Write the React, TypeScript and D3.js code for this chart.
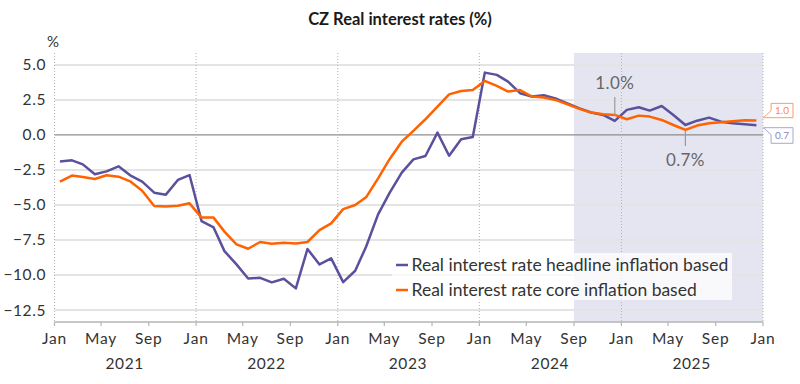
import React from "react";
import * as d3 from "d3";

// monthly observations, Jan 2021 .. Dec 2025 (plotted mid-month)
const years = [2021, 2022, 2023, 2024, 2025];
const headline = [
  -1.9, -1.81, -2.1, -2.8, -2.6, -2.24, -2.88, -3.33, -4.12, -4.26, -3.21, -2.86,
  -6.15, -6.6, -8.29, -9.24, -10.24, -10.2, -10.52, -10.26, -10.95, -8.14, -9.24, -8.81,
  -10.5, -9.69, -7.98, -5.67, -4.12, -2.69, -1.74, -1.5, 0.17, -1.48, -0.31, -0.14,
  4.45, 4.29, 3.81, 2.98, 2.74, 2.83, 2.6, 2.26, 1.9, 1.6, 1.43, 1.0,
  1.79, 1.98, 1.74, 2.07, 1.43, 0.71, 1.02, 1.24, 0.95, 0.83, 0.76, 0.69,
];
const core = [
  -3.33, -2.9, -3.0, -3.14, -2.88, -2.98, -3.31, -3.98, -5.07, -5.1, -5.05, -4.88,
  -5.9, -5.9, -6.9, -7.81, -8.12, -7.64, -7.76, -7.69, -7.74, -7.64, -6.79, -6.31,
  -5.29, -5.0, -4.45, -3.1, -1.71, -0.48, 0.29, 1.12, 2.02, 2.9, 3.14, 3.21,
  3.86, 3.5, 3.1, 3.21, 2.74, 2.67, 2.5, 2.19, 1.86, 1.6, 1.48, 1.43,
  1.12, 1.38, 1.31, 1.07, 0.71, 0.36, 0.67, 0.83, 0.9, 0.98, 1.05, 1.04,
];
const yTicks = [5, 2.5, 0, -2.5, -5, -7.5, -10, -12.5];
const forecastStart = new Date(2024, 8, 1);

// callouts: text, month index, text value, leader from/to values
const callouts = [
  { text: "1.0%", idx: 47, textV: 3.26, from: 2.71, to: 1.36 },
  { text: "0.7%", idx: 53, textV: -2.21, from: 0.36, to: -0.79 },
];

const series = [
  { name: "Real interest rate headline inflation based", values: headline, color: "#5a519c", light: "#a9a6cf" },
  { name: "Real interest rate core inflation based", values: core, color: "#ff6200", light: "#ff9d5c" },
];

const W = 800;
const H = 384;
const FONT = "Lato, 'Noto Sans', sans-serif";

export default function App() {
  const dates = headline.map((_, i) => new Date(years[0] + Math.floor(i / 12), i % 12, 15));
  const x = d3.scaleTime().domain([new Date(2021, 0, 1), new Date(2026, 0, 1)]).range([54.5, 763]);
  const y = d3.scaleLinear().domain([-13.35, 5.85]).range([322, 53]);
  const [top, bottom] = [y.range()[1], y.range()[0]];
  const [left, right] = x.range();

  const line = d3
    .line<number>()
    .x((_, i) => x(dates[i]))
    .y((d) => y(d));

  const monthTicks = x.ticks(d3.timeMonth.every(4));
  const janTicks = x.ticks(d3.timeYear.every(1));
  const fmt = d3.timeFormat("%b");
  const f1 = d3.format(".1f");
  const last = dates.length - 1;
  const xl = x(dates[last]);

  return (
    <div style={{ position: "absolute", left: 0, top: 0 }}>
      <svg width={W} height={H} style={{ display: "block", fontFamily: FONT }}>
        <rect width={W} height={H} fill="#fff" />
        <text x={400} y={25} textAnchor="middle" fontSize={16.5} fontWeight="bold" fill="#1a1a1a">
          CZ Real interest rates (%)
        </text>
        <text x={47} y={46.5} fontSize={15} fill="#333">%</text>

        {/* forecast shading */}
        <rect x={x(forecastStart)} y={top} width={right - x(forecastStart)} height={bottom - top} fill="#e5e5f1" />

        {/* horizontal grid */}
        {yTicks.map((t) => (
          <g key={t}>
            <line
              x1={left}
              x2={right}
              y1={y(t)}
              y2={y(t)}
              stroke={t === 0 ? "#8c8c8c" : "#e4e4e4"}
              strokeWidth={t === 0 ? 1.2 : 2}
            />
            <text x={46} y={y(t)} dy="0.35em" textAnchor="end" fontSize={15.5} letterSpacing={0.6} fill="#333">
              {f1(t)}
            </text>
          </g>
        ))}

        {/* yearly dotted lines */}
        {janTicks.map((d) => (
          <line
            key={+d}
            x1={x(d)}
            x2={x(d)}
            y1={top}
            y2={bottom}
            stroke="#b0b0b0"
            strokeWidth={1}
            strokeDasharray="1,2"
          />
        ))}

        {/* x axis */}
        <line x1={left} x2={right} y1={bottom} y2={bottom} stroke="#b5b5b5" strokeWidth={1.5} />
        {monthTicks.map((d) => (
          <g key={+d}>
            <line x1={x(d)} x2={x(d)} y1={bottom} y2={bottom + 4} stroke="#b5b5b5" strokeWidth={1.2} />
            <text x={x(d)} y={344} textAnchor="middle" fontSize={15.5} letterSpacing={0.8} fill="#333">
              {fmt(d)}
            </text>
          </g>
        ))}
        {years.map((yr) => (
          <text key={yr} x={x(new Date(yr, 6, 1))} y={369} textAnchor="middle" fontSize={15.5} letterSpacing={0.6} fill="#333">
            {yr}
          </text>
        ))}

        {/* series */}
        {series.map((s) => (
          <path key={s.name} d={line(s.values) || ""} fill="none" stroke={s.color} strokeWidth={2.5} strokeLinejoin="round" />
        ))}

        {/* callouts */}
        {callouts.map((c) => {
          const cx = x(dates[c.idx]);
          return (
            <g key={c.text}>
              <line x1={cx} x2={cx} y1={y(c.from)} y2={y(c.to)} stroke="#9a9a9a" strokeWidth={1.2} />
              <text x={cx} y={y(c.textV)} textAnchor="middle" fontSize={17} letterSpacing={0.4} fill="#666">
                {c.text}
              </text>
            </g>
          );
        })}

        {/* end value tags */}
        {(() => {
          const yo = y(core[last]) - 2.7;
          const yp = y(headline[last]) + 2.4;
          const tx = xl + 7;
          const bx = tx + 7.7;
          const br = 793;
          return (
            <g fontSize={10}>
              <path
                d={`M${tx},${yo} L${bx},${yo - 7} L${bx},${yo - 14.3} L${br},${yo - 14.3} L${br},${yo} Z`}
                fill="#fff"
                stroke={series[1].light}
                strokeWidth={1}
              />
              <text x={(bx + br) / 2} y={yo - 3.8} textAnchor="middle" fill="#ff8a3d">
                {f1(core[last])}
              </text>
              <path
                d={`M${tx},${yp} L${br},${yp} L${br},${yp + 15.6} L${bx},${yp + 15.6} L${bx},${yp + 7} Z`}
                fill="#fff"
                stroke={series[0].light}
                strokeWidth={1}
              />
              <text x={(bx + br) / 2} y={yp + 11.5} textAnchor="middle" fill="#8a86bd">
                {f1(headline[last])}
              </text>
            </g>
          );
        })()}

        {/* legend */}
        <rect x={392} y={253} width={340} height={47} fill="#fff" opacity={0.75} />
        {series.map((s, i) => (
          <g key={s.name} transform={`translate(396,${265 + i * 25})`}>
            <line x1={0} x2={12} y1={0} y2={0} stroke={s.color} strokeWidth={2.5} />
            <text x={15.5} y={0} dy="0.35em" fontSize={17.5} fill="#333">
              {s.name}
            </text>
          </g>
        ))}
      </svg>
    </div>
  );
}
